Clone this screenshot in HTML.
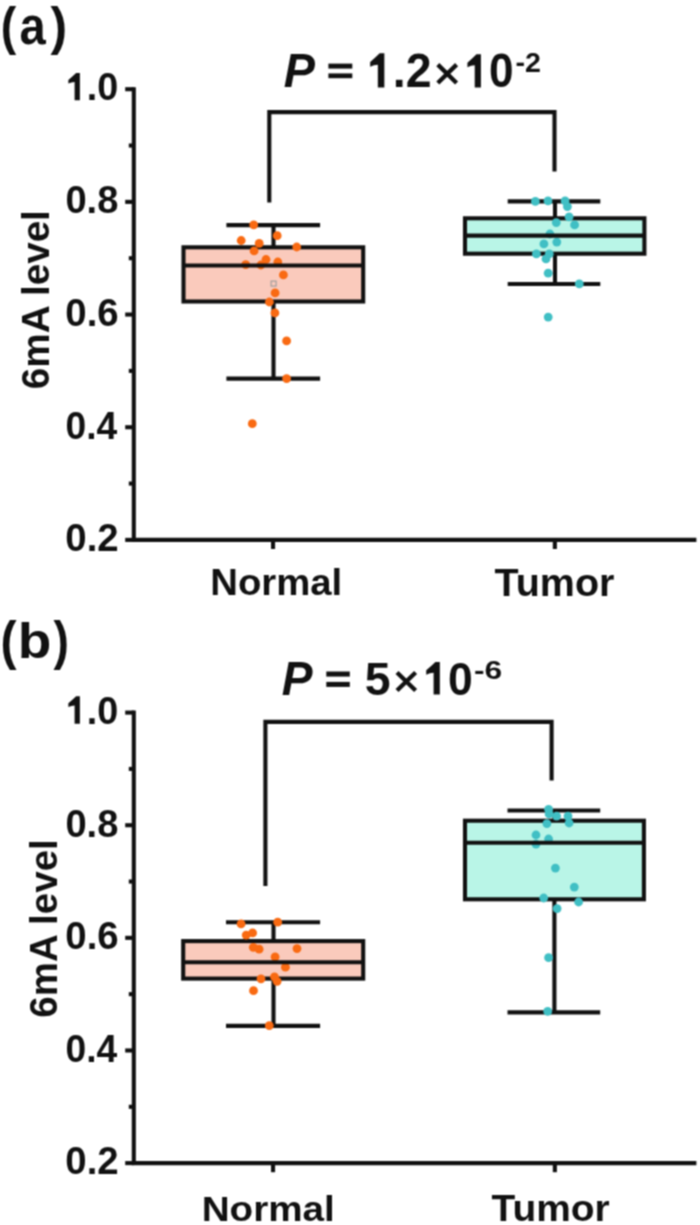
<!DOCTYPE html>
<html><head><meta charset="utf-8"><style>
html,body{margin:0;padding:0;background:#fff;width:700px;height:1225px;overflow:hidden}
svg{display:block;will-change:transform}

text{font-family:'Liberation Sans', sans-serif;fill:#111}
</style></head><body>
<div id="wrap"><svg width="700" height="1225" viewBox="0 0 700 1225">
<defs><filter id="soft" x="0" y="0" width="700" height="1225" filterUnits="userSpaceOnUse" color-interpolation-filters="sRGB"><feConvolveMatrix order="3" kernelMatrix="1 2 1 2 4 2 1 2 1" divisor="16" edgeMode="duplicate"/></filter></defs>
<g filter="url(#soft)">
<rect x="0" y="0" width="700" height="1225" fill="#fff"/>
<path d="M269.3 202.4 V112.1 H554.5 V171.5" fill="none" stroke="#111" stroke-width="4.1"/>
<line x1="273.5" y1="225.1" x2="273.5" y2="247.3" stroke="#111" stroke-width="4.1"/>
<line x1="273.5" y1="301.5" x2="273.5" y2="378.6" stroke="#111" stroke-width="4.1"/>
<line x1="226.4" y1="225.1" x2="320.1" y2="225.1" stroke="#111" stroke-width="4.1"/>
<line x1="226.4" y1="378.6" x2="320.1" y2="378.6" stroke="#111" stroke-width="4.1"/>
<rect x="183.5" y="247.3" width="179.7" height="54.19999999999999" fill="#facabc" stroke="#111" stroke-width="4.1"/>
<rect x="271.1" y="281.1" width="5" height="5" fill="none" stroke="#9a9a9a" stroke-width="1.1"/>
<circle cx="253.7" cy="224.8" r="4.4" fill="#f96a12"/>
<circle cx="277.2" cy="235.7" r="4.4" fill="#f96a12"/>
<circle cx="241.2" cy="240.5" r="4.4" fill="#f96a12"/>
<circle cx="259.2" cy="243.4" r="4.4" fill="#f96a12"/>
<circle cx="296.7" cy="247" r="4.4" fill="#f96a12"/>
<circle cx="254.1" cy="250.9" r="4.4" fill="#f96a12"/>
<circle cx="245.7" cy="264.6" r="4.4" fill="#f96a12"/>
<circle cx="260.9" cy="265" r="4.4" fill="#f96a12"/>
<circle cx="266" cy="259.5" r="4.4" fill="#f96a12"/>
<circle cx="277.8" cy="262" r="4.4" fill="#f96a12"/>
<circle cx="283.4" cy="274.9" r="4.4" fill="#f96a12"/>
<circle cx="275.1" cy="292.9" r="4.4" fill="#f96a12"/>
<circle cx="269.4" cy="302" r="4.4" fill="#f96a12"/>
<circle cx="274.9" cy="312.9" r="4.4" fill="#f96a12"/>
<circle cx="286.6" cy="340.9" r="4.4" fill="#f96a12"/>
<circle cx="286.6" cy="378.6" r="4.4" fill="#f96a12"/>
<circle cx="252.3" cy="423.7" r="4.4" fill="#f96a12"/>
<line x1="183.5" y1="265.5" x2="363.2" y2="265.5" stroke="#111" stroke-width="4.1"/>
<line x1="555.0" y1="201.4" x2="555.0" y2="218.3" stroke="#111" stroke-width="4.1"/>
<line x1="555.0" y1="253.7" x2="555.0" y2="284.0" stroke="#111" stroke-width="4.1"/>
<line x1="507.7" y1="201.4" x2="600.3" y2="201.4" stroke="#111" stroke-width="4.1"/>
<line x1="507.7" y1="284.0" x2="600.3" y2="284.0" stroke="#111" stroke-width="4.1"/>
<rect x="465.0" y="218.3" width="179.39999999999998" height="35.39999999999998" fill="#b9f5e7" stroke="#111" stroke-width="4.1"/>
<circle cx="535.4" cy="201.4" r="4.4" fill="#40bfc4"/>
<circle cx="548" cy="200.9" r="4.4" fill="#40bfc4"/>
<circle cx="565.1" cy="200.9" r="4.4" fill="#40bfc4"/>
<circle cx="567.4" cy="206.6" r="4.4" fill="#40bfc4"/>
<circle cx="569.1" cy="216.9" r="4.4" fill="#40bfc4"/>
<circle cx="556.3" cy="222.6" r="4.4" fill="#40bfc4"/>
<circle cx="574.6" cy="224.9" r="4.4" fill="#40bfc4"/>
<circle cx="549.9" cy="234" r="4.4" fill="#40bfc4"/>
<circle cx="556.8" cy="242.1" r="4.4" fill="#40bfc4"/>
<circle cx="543.9" cy="243.9" r="4.4" fill="#40bfc4"/>
<circle cx="536.4" cy="253.9" r="4.4" fill="#40bfc4"/>
<circle cx="549.3" cy="253.9" r="4.4" fill="#40bfc4"/>
<circle cx="546" cy="258.9" r="4.4" fill="#40bfc4"/>
<circle cx="548.2" cy="273.2" r="4.4" fill="#40bfc4"/>
<circle cx="579.3" cy="283.9" r="4.4" fill="#40bfc4"/>
<circle cx="548.2" cy="317.1" r="4.4" fill="#40bfc4"/>
<line x1="465.0" y1="235.6" x2="644.4" y2="235.6" stroke="#111" stroke-width="4.1"/>
<path d="M133.8 87.15 V539.9 H696.4" fill="none" stroke="#111" stroke-width="4.1"/>
<line x1="125.20000000000002" y1="89.19999999999999" x2="133.8" y2="89.19999999999999" stroke="#111" stroke-width="4.1"/>
<line x1="125.20000000000002" y1="201.87499999999994" x2="133.8" y2="201.87499999999994" stroke="#111" stroke-width="4.1"/>
<line x1="125.20000000000002" y1="314.55" x2="133.8" y2="314.55" stroke="#111" stroke-width="4.1"/>
<line x1="125.20000000000002" y1="427.22499999999997" x2="133.8" y2="427.22499999999997" stroke="#111" stroke-width="4.1"/>
<line x1="125.20000000000002" y1="539.9" x2="133.8" y2="539.9" stroke="#111" stroke-width="4.1"/>
<line x1="128.8" y1="145.53750000000002" x2="133.8" y2="145.53750000000002" stroke="#111" stroke-width="4.1"/>
<line x1="128.8" y1="258.21250000000003" x2="133.8" y2="258.21250000000003" stroke="#111" stroke-width="4.1"/>
<line x1="128.8" y1="370.88750000000005" x2="133.8" y2="370.88750000000005" stroke="#111" stroke-width="4.1"/>
<line x1="128.8" y1="483.5625" x2="133.8" y2="483.5625" stroke="#111" stroke-width="4.1"/>
<line x1="273.05" y1="539.9" x2="273.05" y2="549.0" stroke="#111" stroke-width="4.1"/>
<line x1="554.85" y1="539.9" x2="554.85" y2="549.0" stroke="#111" stroke-width="4.1"/>
<path d="M265.4 886.1 V721.9 H551.6 V780.6" fill="none" stroke="#111" stroke-width="4.1"/>
<line x1="273.5" y1="922.2" x2="273.5" y2="941.1" stroke="#111" stroke-width="4.1"/>
<line x1="273.5" y1="978.6" x2="273.5" y2="1025.9" stroke="#111" stroke-width="4.1"/>
<line x1="226.0" y1="922.2" x2="320.1" y2="922.2" stroke="#111" stroke-width="4.1"/>
<line x1="226.0" y1="1025.9" x2="320.1" y2="1025.9" stroke="#111" stroke-width="4.1"/>
<rect x="183.2" y="941.1" width="180.0" height="37.5" fill="#facabc" stroke="#111" stroke-width="4.1"/>
<circle cx="241.1" cy="923.9" r="4.4" fill="#f96a12"/>
<circle cx="277.7" cy="922.2" r="4.4" fill="#f96a12"/>
<circle cx="246.2" cy="935.1" r="4.4" fill="#f96a12"/>
<circle cx="252.6" cy="932.9" r="4.4" fill="#f96a12"/>
<circle cx="253.3" cy="947.3" r="4.4" fill="#f96a12"/>
<circle cx="259.1" cy="949.2" r="4.4" fill="#f96a12"/>
<circle cx="297" cy="948.6" r="4.4" fill="#f96a12"/>
<circle cx="275.1" cy="956.9" r="4.4" fill="#f96a12"/>
<circle cx="285.4" cy="967.2" r="4.4" fill="#f96a12"/>
<circle cx="261" cy="978.8" r="4.4" fill="#f96a12"/>
<circle cx="274.5" cy="976.8" r="4.4" fill="#f96a12"/>
<circle cx="277.1" cy="981.3" r="4.4" fill="#f96a12"/>
<circle cx="253.5" cy="990.7" r="4.4" fill="#f96a12"/>
<circle cx="269.3" cy="1025.7" r="4.4" fill="#f96a12"/>
<line x1="183.2" y1="962.3" x2="363.2" y2="962.3" stroke="#111" stroke-width="4.1"/>
<line x1="554.4" y1="810.5" x2="554.4" y2="820.7" stroke="#111" stroke-width="4.1"/>
<line x1="554.4" y1="899.3" x2="554.4" y2="1012.4" stroke="#111" stroke-width="4.1"/>
<line x1="507.5" y1="810.5" x2="600.2" y2="810.5" stroke="#111" stroke-width="4.1"/>
<line x1="507.5" y1="1012.4" x2="600.2" y2="1012.4" stroke="#111" stroke-width="4.1"/>
<rect x="465.0" y="820.7" width="178.89999999999998" height="78.59999999999991" fill="#b9f5e7" stroke="#111" stroke-width="4.1"/>
<circle cx="548.6" cy="809.3" r="4.4" fill="#40bfc4"/>
<circle cx="549.1" cy="813.9" r="4.4" fill="#40bfc4"/>
<circle cx="556.6" cy="816.1" r="4.4" fill="#40bfc4"/>
<circle cx="568" cy="816.1" r="4.4" fill="#40bfc4"/>
<circle cx="569.1" cy="823" r="4.4" fill="#40bfc4"/>
<circle cx="546.9" cy="823.6" r="4.4" fill="#40bfc4"/>
<circle cx="536" cy="835" r="4.4" fill="#40bfc4"/>
<circle cx="536" cy="844.1" r="4.4" fill="#40bfc4"/>
<circle cx="548.6" cy="839" r="4.4" fill="#40bfc4"/>
<circle cx="555.4" cy="868.1" r="4.4" fill="#40bfc4"/>
<circle cx="574.3" cy="887.1" r="4.4" fill="#40bfc4"/>
<circle cx="543.7" cy="898" r="4.4" fill="#40bfc4"/>
<circle cx="578.6" cy="902" r="4.4" fill="#40bfc4"/>
<circle cx="557.1" cy="908.6" r="4.4" fill="#40bfc4"/>
<circle cx="548.6" cy="957.7" r="4.4" fill="#40bfc4"/>
<circle cx="547.7" cy="1011.4" r="4.4" fill="#40bfc4"/>
<line x1="465.0" y1="842.7" x2="643.9" y2="842.7" stroke="#111" stroke-width="4.1"/>
<path d="M133.8 710.5500000000001 V1163.1 H696.4" fill="none" stroke="#111" stroke-width="4.1"/>
<line x1="125.20000000000002" y1="712.6" x2="133.8" y2="712.6" stroke="#111" stroke-width="4.1"/>
<line x1="125.20000000000002" y1="825.2249999999999" x2="133.8" y2="825.2249999999999" stroke="#111" stroke-width="4.1"/>
<line x1="125.20000000000002" y1="937.85" x2="133.8" y2="937.85" stroke="#111" stroke-width="4.1"/>
<line x1="125.20000000000002" y1="1050.475" x2="133.8" y2="1050.475" stroke="#111" stroke-width="4.1"/>
<line x1="125.20000000000002" y1="1163.1" x2="133.8" y2="1163.1" stroke="#111" stroke-width="4.1"/>
<line x1="128.8" y1="768.9125000000001" x2="133.8" y2="768.9125000000001" stroke="#111" stroke-width="4.1"/>
<line x1="128.8" y1="881.5375" x2="133.8" y2="881.5375" stroke="#111" stroke-width="4.1"/>
<line x1="128.8" y1="994.1624999999999" x2="133.8" y2="994.1624999999999" stroke="#111" stroke-width="4.1"/>
<line x1="128.8" y1="1106.7875" x2="133.8" y2="1106.7875" stroke="#111" stroke-width="4.1"/>
<line x1="273.05" y1="1163.1" x2="273.05" y2="1172.1999999999998" stroke="#111" stroke-width="4.1"/>
<line x1="554.85" y1="1163.1" x2="554.85" y2="1172.1999999999998" stroke="#111" stroke-width="4.1"/>
<g transform="matrix(0.4643 0 0 0.5266 0.68 44.44)"><text font-size="100" font-weight="bold">(</text></g>
<g transform="matrix(0.4717 0 0 0.5182 19.58 43.98)"><text font-size="100" font-weight="bold">a</text></g>
<g transform="matrix(0.5000 0 0 0.5266 50.50 44.44)"><text font-size="100" font-weight="bold">)</text></g>
<g transform="matrix(0.4821 0 0 0.5372 0.59 658.72)"><text font-size="100" font-weight="bold">(</text></g>
<g transform="matrix(0.5500 0 0 0.5000 17.65 658.00)"><text font-size="100" font-weight="bold">b</text></g>
<g transform="matrix(0.4643 0 0 0.5372 53.50 658.72)"><text font-size="100" font-weight="bold">)</text></g>
<g transform="matrix(0.4677 0 0 0.4841 283.76 87.00)"><text font-size="100" font-weight="bold" font-style="italic">P</text></g>
<g transform="matrix(0.4651 0 0 0.4829 366.91 87.40)"><text font-size="100" font-weight="bold">1.2</text><rect x="2" y="-76" width="54" height="79" fill="#fff"/><path d="M23.5 0 L37.5 0 L37.5 -70.5 L27.5 -70.5 Q18 -61.5 7 -52.5 L7 -43 Q15 -46.5 23.5 -47 Z" fill="#111"/></g>
<g transform="matrix(0.4416 0 0 0.4718 464.35 87.43)"><text font-size="100" font-weight="bold">10</text><rect x="2" y="-76" width="54" height="79" fill="#fff"/><path d="M23.5 0 L37.5 0 L37.5 -70.5 L27.5 -70.5 Q18 -61.5 7 -52.5 L7 -43 Q15 -46.5 23.5 -47 Z" fill="#111"/></g>
<g transform="matrix(0.2864 0 0 0.2686 515.55 72.40)"><text font-size="100" font-weight="bold">-2</text></g>
<g transform="matrix(0.4615 0 0 0.4725 281.78 695.30)"><text font-size="100" font-weight="bold" font-style="italic">P</text></g>
<g transform="matrix(0.4640 0 0 0.4586 364.71 695.24)"><text font-size="100" font-weight="bold">5</text></g>
<g transform="matrix(0.4455 0 0 0.4620 423.13 694.54)"><text font-size="100" font-weight="bold">10</text><rect x="2" y="-76" width="54" height="79" fill="#fff"/><path d="M23.5 0 L37.5 0 L37.5 -70.5 L27.5 -70.5 Q18 -61.5 7 -52.5 L7 -43 Q15 -46.5 23.5 -47 Z" fill="#111"/></g>
<g transform="matrix(0.3173 0 0 0.2648 474.03 679.04)"><text font-size="100" font-weight="bold">-6</text></g>
<g transform="matrix(0.3775 0 0 0.3873 65.73 100.26)"><text font-size="100" font-weight="bold">1.0</text><rect x="2" y="-76" width="54" height="79" fill="#fff"/><path d="M23.5 0 L37.5 0 L37.5 -70.5 L27.5 -70.5 Q18 -61.5 7 -52.5 L7 -43 Q15 -46.5 23.5 -47 Z" fill="#111"/></g>
<g transform="matrix(0.3811 0 0 0.3944 65.38 213.18)"><text font-size="100" font-weight="bold">0.8</text></g>
<g transform="matrix(0.3840 0 0 0.3944 65.36 325.86)"><text font-size="100" font-weight="bold">0.6</text></g>
<g transform="matrix(0.3726 0 0 0.3944 65.41 438.53)"><text font-size="100" font-weight="bold">0.4</text></g>
<g transform="matrix(0.3840 0 0 0.3944 65.36 551.21)"><text font-size="100" font-weight="bold">0.2</text></g>
<g transform="matrix(0.3775 0 0 0.3873 65.73 723.66)"><text font-size="100" font-weight="bold">1.0</text><rect x="2" y="-76" width="54" height="79" fill="#fff"/><path d="M23.5 0 L37.5 0 L37.5 -70.5 L27.5 -70.5 Q18 -61.5 7 -52.5 L7 -43 Q15 -46.5 23.5 -47 Z" fill="#111"/></g>
<g transform="matrix(0.3811 0 0 0.3944 65.38 836.53)"><text font-size="100" font-weight="bold">0.8</text></g>
<g transform="matrix(0.3840 0 0 0.3944 65.36 949.16)"><text font-size="100" font-weight="bold">0.6</text></g>
<g transform="matrix(0.3726 0 0 0.3944 65.41 1061.78)"><text font-size="100" font-weight="bold">0.4</text></g>
<g transform="matrix(0.3840 0 0 0.3944 65.36 1174.41)"><text font-size="100" font-weight="bold">0.2</text></g>
<g transform="matrix(0.3833 0 0 0.3716 210.22 595.23)"><text font-size="100" font-weight="bold">Normal</text></g>
<g transform="matrix(0.3947 0 0 0.3914 494.51 595.61)"><text font-size="100" font-weight="bold">Tumor</text></g>
<g transform="matrix(0.3867 0 0 0.3581 201.69 1221.44)"><text font-size="100" font-weight="bold">Normal</text></g>
<g transform="matrix(0.3890 0 0 0.3786 491.51 1221.42)"><text font-size="100" font-weight="bold">Tumor</text></g>
<text transform="matrix(0 -0.3865 0.3811 0 49.42 389.15)" font-size="100" font-weight="bold">6mA level</text>
<text transform="matrix(0 -0.3852 0.3878 0 56.71 1017.64)" font-size="100" font-weight="bold">6mA level</text>
<rect x="328.4" y="63.6" width="23.900000000000034" height="4.999999999999993" fill="#111"/><rect x="328.4" y="73.4" width="23.900000000000034" height="4.799999999999997" fill="#111"/>
<rect x="326.3" y="671.5" width="23.5" height="5.100000000000023" fill="#111"/><rect x="326.3" y="681.9" width="23.5" height="5.0" fill="#111"/>
<path d="M437.82 64.62 L456.58 83.08 M456.58 64.62 L437.82 83.08" stroke="#111" stroke-width="4.3" fill="none"/>
<path d="M397.02 672.42 L415.58 690.58 M415.58 672.42 L397.02 690.58" stroke="#111" stroke-width="4.3" fill="none"/>
</g>
</svg></div>
</body></html>
